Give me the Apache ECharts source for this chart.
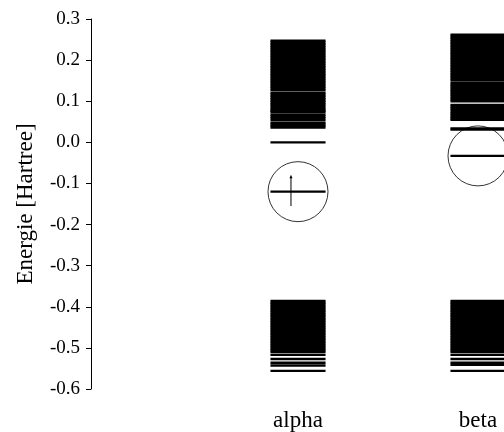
<!DOCTYPE html>
<html>
<head>
<meta charset="utf-8">
<script src="https://cdn.jsdelivr.net/npm/echarts@6/dist/echarts.min.js"></script>
<style>
html, body { margin: 0; padding: 0; background: #fff; }
#chart { width: 504px; height: 432px; }
</style>
</head>
<body>
<div id="chart"></div>
<script>
// spin channels on the x axis
var categories = ['alpha', 'beta'];

// orbital energies (Hartree)
var alphaLevels = [
    0.247, 0.243, 0.239, 0.235, 0.231, 0.227, 0.223, 0.219, 0.215, 0.211,
    0.207, 0.203, 0.199, 0.195, 0.191, 0.187, 0.183, 0.179, 0.175, 0.171,
    0.167, 0.163, 0.159, 0.155, 0.151, 0.147, 0.143, 0.139, 0.135, 0.131,
    0.127, 0.121, 0.117, 0.113, 0.109, 0.105, 0.101, 0.097, 0.093, 0.089,
    0.084, 0.080, 0.077, 0.073, 0.067, 0.063, 0.059, 0.054, 0.048, 0.044,
    0.040, 0.036, 0.000, -0.120,
    -0.386, -0.390, -0.394, -0.398, -0.402, -0.406, -0.410, -0.414, -0.418, -0.422,
    -0.426, -0.430, -0.434, -0.438, -0.442, -0.446, -0.450, -0.454, -0.458, -0.462,
    -0.466, -0.470, -0.474, -0.478, -0.482, -0.486, -0.490, -0.494, -0.498, -0.502,
    -0.506, -0.510, -0.517, -0.527, -0.536, -0.543, -0.556
];
var betaLevels = [
    0.262, 0.258, 0.254, 0.250, 0.246, 0.242, 0.238, 0.234, 0.230, 0.226,
    0.222, 0.218, 0.214, 0.210, 0.206, 0.202, 0.198, 0.194, 0.190, 0.186,
    0.182, 0.178, 0.174, 0.170, 0.166, 0.162, 0.158, 0.154, 0.150, 0.144,
    0.140, 0.136, 0.132, 0.128, 0.124, 0.120, 0.116, 0.112, 0.108, 0.104,
    0.100, 0.091, 0.087, 0.083, 0.079, 0.074, 0.070, 0.066, 0.062, 0.058,
    0.055, 0.034, 0.031, -0.033,
    -0.386, -0.390, -0.394, -0.398, -0.402, -0.406, -0.410, -0.414, -0.418, -0.422,
    -0.426, -0.430, -0.434, -0.438, -0.442, -0.446, -0.450, -0.454, -0.458, -0.462,
    -0.466, -0.470, -0.474, -0.478, -0.482, -0.486, -0.490, -0.494, -0.498, -0.502,
    -0.506, -0.510, -0.517, -0.527, -0.536, -0.541, -0.556
];
// circled orbitals: [channel, energy]
var circled = [[1, -0.120], [2, -0.033]];
// electron arrows: [channel, energy]
var spinUp = [[1, -0.120]];

var yTicks = [-0.6, 0.3, 0.1]; // min, max, step

var levelData = [];
alphaLevels.forEach(function (e) { levelData.push([1, e]); });
betaLevels.forEach(function (e) { levelData.push([2, e]); });

var halfW = 0.153;
var font = 'Liberation Serif';

var chart = echarts.init(document.getElementById('chart'));
var option = {
    animation: false,
    grid: { left: 91, top: 19, bottom: 43, width: 477, containLabel: false, outerBoundsMode: 'none' },
    xAxis: {
        type: 'value',
        min: -0.15,
        max: 2.5,
        splitLine: { show: false },
        axisLine: { show: false },
        axisTick: { show: false },
        axisLabel: {
            customValues: [1, 2],
            margin: 20,
            color: '#000',
            fontFamily: font,
            fontSize: 23,
            formatter: function (v) { return categories[Math.round(v) - 1] || ''; }
        }
    },
    yAxis: {
        type: 'value',
        min: yTicks[0],
        max: yTicks[1],
        interval: yTicks[2],
        name: 'Energie [Hartree]',
        nameLocation: 'middle',
        nameGap: 54,
        nameMoveOverlap: false,
        nameTextStyle: { color: '#000', fontFamily: font, fontSize: 23 },
        splitLine: { show: false },
        axisLine: { show: true, onZero: false, lineStyle: { color: '#000', width: 1 } },
        axisTick: { show: true, length: 5, lineStyle: { color: '#000' } },
        axisLabel: {
            margin: 11,
            color: '#000',
            fontFamily: font,
            fontSize: 19,
            formatter: function (v) { return v.toFixed(1); }
        }
    },
    series: [
        {
            type: 'custom',
            silent: true,
            data: levelData,
            renderItem: function (params, api) {
                var x = api.value(0), e = api.value(1);
                var p1 = api.coord([x - halfW, e]);
                var p2 = api.coord([x + halfW, e]);
                return {
                    type: 'line',
                    shape: { x1: p1[0], y1: p1[1], x2: p2[0], y2: p2[1] },
                    style: { stroke: '#000', lineWidth: 2.4 }
                };
            }
        },
        {
            type: 'scatter',
            silent: true,
            symbol: 'circle',
            symbolSize: 60,
            itemStyle: { color: 'rgba(0,0,0,0)', borderColor: '#000', borderWidth: 1 },
            data: circled
        },
        {
            type: 'custom',
            silent: true,
            data: spinUp,
            renderItem: function (params, api) {
                var x = api.value(0) - 0.039, e = api.value(1);
                var top = api.coord([x, e + 0.036]);
                var bot = api.coord([x, e - 0.035]);
                return {
                    type: 'group',
                    children: [
                        {
                            type: 'line',
                            shape: { x1: top[0], y1: top[1], x2: bot[0], y2: bot[1] },
                            style: { stroke: '#000', lineWidth: 1 }
                        },
                        {
                            type: 'polygon',
                            shape: { points: [[top[0], top[1] - 2], [top[0] - 1.5, top[1] + 1.5], [top[0] + 1.5, top[1] + 1.5]] },
                            style: { fill: '#000' }
                        }
                    ]
                };
            }
        }
    ]
};
chart.setOption(option);

window.addEventListener('resize', function () {
    chart.resize();
});
</script>
</body>
</html>
